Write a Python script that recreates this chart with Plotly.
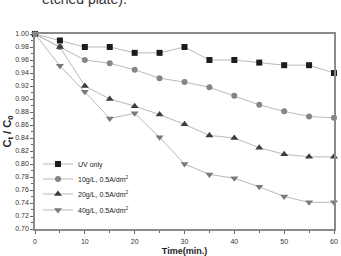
import plotly.graph_objects as go

time = [0, 5, 10, 15, 20, 25, 30, 35, 40, 45, 50, 55, 60]
uv_only = [1.00, 0.99, 0.98, 0.98, 0.971, 0.971, 0.98, 0.96, 0.96, 0.956, 0.952, 0.952, 0.94]
g10 = [1.00, 0.98, 0.96, 0.955, 0.945, 0.932, 0.926, 0.918, 0.905, 0.891, 0.881, 0.873, 0.871]
g20 = [1.00, 0.98, 0.92, 0.90, 0.889, 0.876, 0.861, 0.844, 0.84, 0.825, 0.815, 0.811, 0.811]
g40 = [1.00, 0.951, 0.911, 0.87, 0.878, 0.841, 0.80, 0.784, 0.778, 0.765, 0.75, 0.741, 0.741]

names = ["UV only", "10g/L, 0.5A/dm<sup>2</sup>", "20g/L, 0.5A/dm<sup>2</sup>", "40g/L, 0.5A/dm<sup>2</sup>"]
series = [uv_only, g10, g20, g40]
symbols = ["square", "circle", "triangle-up", "triangle-down"]
colors = ["#1c1c1c", "#858585", "#3c3c3c", "#7a7a7a"]
sizes = [6, 6, 7, 7]
legend_ids = ["legend", "legend2", "legend3", "legend4"]
legend_rows = [164, 179, 194, 210]  # pixel rows of legend entries

fig = go.Figure()
for n, s, sym, c, sz, lg in zip(names, series, symbols, colors, sizes, legend_ids):
    fig.add_trace(go.Scatter(
        x=time, y=s, name=n, mode="lines+markers", legend=lg,
        line=dict(color="#b8b8b8", width=1),
        marker=dict(symbol=sym, color=c, size=sz, line=dict(width=0)),
        cliponaxis=False,
    ))

plot_top, plot_bottom = 34, 229
ph = plot_bottom - plot_top
legend_layout = {}
for lg, row in zip(legend_ids, legend_rows):
    legend_layout[lg] = dict(
        x=0.01, y=(plot_bottom - row) / ph, xanchor="left", yanchor="middle",
        bgcolor="rgba(0,0,0,0)", font=dict(size=7, color="#222"),
        itemwidth=30,
    )

fig.update_layout(
    width=341, height=256,
    margin=dict(l=35, r=7, t=plot_top, b=256 - plot_bottom, autoexpand=False),
    paper_bgcolor="white", plot_bgcolor="white",
    font=dict(family="Liberation Sans, Arial, sans-serif", color="#333"),
    showlegend=True,
    **legend_layout,
    xaxis=dict(
        range=[0, 60], dtick=10, tick0=0, automargin=False,
        showline=True, mirror=True, linecolor="#8a8a8a", linewidth=1.5,
        ticks="outside", ticklen=3, tickcolor="#666", tickwidth=1,
        minor=dict(ticks="outside", dtick=5, ticklen=2, tickcolor="#666"),
        showgrid=False, zeroline=False,
        ticklabelstandoff=2,
        tickfont=dict(size=7, color="#333"),
        title=dict(text="<b>Time(min.)</b>", font=dict(size=9, color="#222"), standoff=7),
    ),
    yaxis=dict(
        range=[0.70, 1.00], dtick=0.02, tick0=0.70, tickformat=".2f", automargin=False,
        showline=True, mirror=True, linecolor="#8a8a8a", linewidth=1.5,
        ticks="outside", ticklen=3, tickcolor="#666", tickwidth=1,
        minor=dict(ticks="outside", dtick=0.01, ticklen=2, tickcolor="#666"),
        showgrid=False, zeroline=False,
        tickfont=dict(size=7, color="#333"),
        title=dict(text="<b>C<sub>t</sub> / C<sub>0</sub></b>", font=dict(size=11, color="#222"), standoff=1),
    ),
    annotations=[dict(
        text="etched plate).", xref="paper", yref="paper",
        x=(40 - 35) / 299, y=(plot_bottom - 9) / ph, xanchor="left", yanchor="bottom",
        showarrow=False, font=dict(size=14, color="#333", family="Liberation Sans, Arial"),
    )],
)

fig.write_html("out.html")
